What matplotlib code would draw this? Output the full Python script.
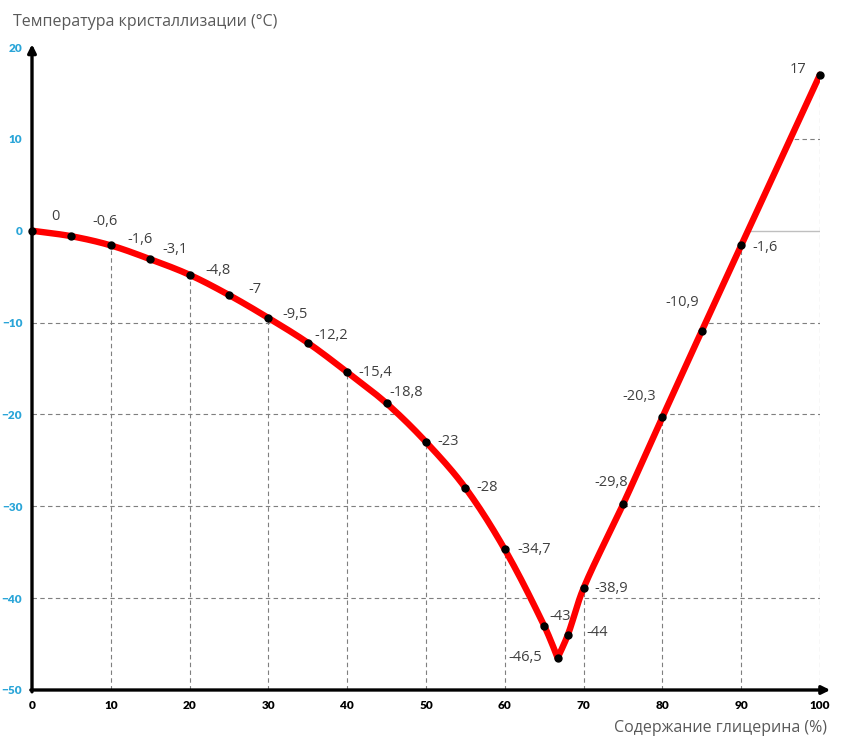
import numpy as np
import matplotlib.pyplot as plt
from matplotlib.patches import Polygon

# glycerin content (%) and crystallisation temperature (°C)
glycerin = [0, 5, 10, 15, 20, 25, 30, 35, 40, 45, 50, 55, 60, 65, 66.7, 68, 70, 75, 80, 85, 90, 100]
temp = [0, -0.6, -1.6, -3.1, -4.8, -7, -9.5, -12.2, -15.4, -18.8, -23, -28, -34.7,
        -43, -46.5, -44, -38.9, -29.8, -20.3, -10.9, -1.6, 17]
x_ticks = [0, 10, 20, 30, 40, 50, 60, 70, 80, 90, 100]
y_ticks = [-50, -40, -30, -20, -10, 0, 10, 20]

# where each data label sits relative to its point (pixels)
label_offsets = [(23, 14), (34, 15), (29, 6), (25, 10), (28, 4), (26, 6), (27, 3), (23, 7),
                 (28, 0), (20, 11), (22, 0), (22, 0), (29, 0), (16, 9), (-32, 0), (29, 2),
                 (28, 0), (-12, 22), (-23, 21), (-20, 28), (24, -2), (-22, 5)]


def smooth(x, y, n=24, sx=7.88, sy=9.18):
    # excel-like smoothed line, worked out in screen proportions;
    # sharp turns (the eutectic minimum) are kept as corners
    pts = np.column_stack([np.asarray(x) * sx, np.asarray(y) * sy]).astype(float)
    tang = np.zeros_like(pts)
    for i in range(len(pts)):
        a = pts[max(i - 1, 0)]
        b = pts[min(i + 1, len(pts) - 1)]
        if 0 < i < len(pts) - 1:
            u = pts[i] - a
            v = b - pts[i]
            cosang = np.dot(u, v) / (np.hypot(*u) * np.hypot(*v))
            if cosang < 0:
                continue
        d = b - a
        tang[i] = d / np.hypot(*d)
    out = [pts[0]]
    t = np.linspace(0, 1, n)[1:, None]
    for i in range(len(pts) - 1):
        p1, p2 = pts[i], pts[i + 1]
        L = np.hypot(*(p2 - p1)) / 3
        c1 = p1 + tang[i] * L
        c2 = p2 - tang[i + 1] * L
        seg = (1 - t) ** 3 * p1 + 3 * (1 - t) ** 2 * t * c1 + 3 * (1 - t) * t ** 2 * c2 + t ** 3 * p2
        out.extend(seg)
    out = np.array(out)
    return np.column_stack([out[:, 0] / sx, out[:, 1] / sy])


curve = smooth(glycerin, temp)

fig = plt.figure(figsize=(8.43, 7.41), dpi=100)
ax = fig.add_axes([32 / 843, 1 - 690 / 741, 788 / 843, 643 / 741])
ax.set_xlim(0, 100)
ax.set_ylim(-50, 20)

# grid only under the curve
verts = np.vstack([curve, [[100.4, temp[-1]], [100.4, -50], [0, -50]]])
clip = Polygon(verts, closed=True, transform=ax.transData, facecolor="none", edgecolor="none")
ax.add_patch(clip)
for xv in x_ticks[1:]:
    ln, = ax.plot([xv, xv], [-50, 20], color="#7f7f7f", lw=0.8, ls=(0, (4, 3)), zorder=1)
    ln.set_clip_path(clip)
for yv in y_ticks[1:]:
    if yv == 0:
        ln, = ax.plot([0, 100], [yv, yv], color="#bfbfbf", lw=1, zorder=1)
    else:
        ln, = ax.plot([0, 100], [yv, yv], color="#7f7f7f", lw=0.8, ls=(0, (4, 3)), zorder=1)
    ln.set_clip_path(clip)

ax.plot(curve[:, 0], curve[:, 1], color="#ff0000", lw=4.6, solid_capstyle="round",
        solid_joinstyle="round", zorder=3)
ax.plot(glycerin, temp, "o", color="black", ms=5, zorder=4, clip_on=False)

for xv, yv, (dx, dy) in zip(glycerin, temp, label_offsets):
    lab = f"{yv:g}".replace(".", ",")
    ax.annotate(lab, (xv, yv), xytext=(dx, dy), textcoords="offset pixels",
                ha="center", va="center", fontsize=10.5, color="#404040",
                family=["Open Sans", "DejaVu Sans"], zorder=5)

# axes with arrows
for s in ax.spines.values():
    s.set_visible(False)
ax.annotate("", xy=(0, 20.3), xytext=(0, -50.2), annotation_clip=False,
            arrowprops=dict(arrowstyle="-|>", color="black", lw=2.4, mutation_scale=12,
                            shrinkA=0, shrinkB=0))
ax.annotate("", xy=(101.3, -50), xytext=(-0.15, -50), annotation_clip=False,
            arrowprops=dict(arrowstyle="-|>", color="black", lw=2.4, mutation_scale=12,
                            shrinkA=0, shrinkB=0))

ax.set_xticks(x_ticks)
ax.set_yticks(y_ticks)
ax.tick_params(length=0)
ax.tick_params(axis="x", pad=7)
ax.tick_params(axis="y", pad=7)
for t in ax.get_xticklabels():
    t.set_fontweight("heavy")
    t.set_fontsize(8.5)
    t.set_family(["Lato", "DejaVu Sans"])
    t.set_color("black")
for t in ax.get_yticklabels():
    t.set_fontweight("heavy")
    t.set_fontsize(8.5)
    t.set_family(["Lato", "DejaVu Sans"])
    t.set_color("#2aa5d8")

fig.text(13 / 843, 1 - 22 / 741, "Температура кристаллизации (°C)", ha="left", va="center",
         fontsize=11.5, color="#595959", family=["Open Sans", "DejaVu Sans"])
fig.text(827 / 843, 1 - 728 / 741, "Содержание глицерина (%)", ha="right", va="center",
         fontsize=11.5, color="#595959", family=["Open Sans", "DejaVu Sans"])

fig.savefig("out.png", dpi=100)
